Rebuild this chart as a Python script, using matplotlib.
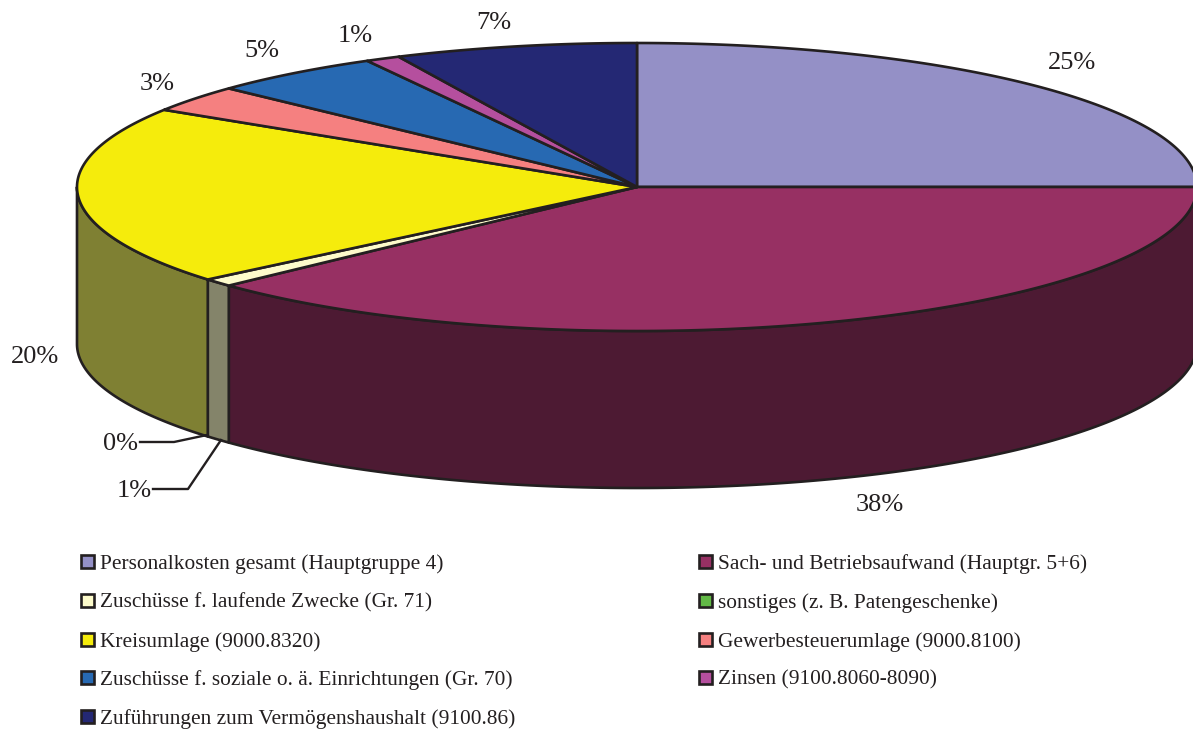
import numpy as np
import matplotlib
matplotlib.use('Agg')
import matplotlib.pyplot as plt

plt.rcParams['font.family'] = ['Liberation Serif', 'DejaVu Serif']

categories = ['Personalkosten gesamt (Hauptgruppe 4)', 'Sach- und Betriebsaufwand (Hauptgr. 5+6)',
              'Zuschüsse f. laufende Zwecke (Gr. 71)', 'sonstiges (z. B. Patengeschenke)',
              'Kreisumlage (9000.8320)', 'Gewerbesteuerumlage (9000.8100)',
              'Zuschüsse f. soziale o. ä. Einrichtungen (Gr. 70)', 'Zinsen (9100.8060-8090)',
              'Zuführungen zum Vermögenshaushalt (9100.86)']
values = [25, 38, 0.9, 0, 20.1, 3, 5, 1, 7]
colors = ['#9490C6', '#973063', '#FDFBCB', '#62B946', '#F5EC0C', '#F58080', '#2769B2', '#B54F9E', '#242874']
side_colors = ['#4A4863', '#4D1A33', '#84846A', '#315C23', '#7F8033', '#7A4040', '#143559', '#5A284F', '#12143A']

edge = '#231F20'
cx, cy = 637, 187
rx, ry = 560, 144
depth = 157

fig = plt.figure(figsize=(11.93, 7.31), dpi=100)
ax = fig.add_axes([0, 0, 1, 1])
ax.set_xlim(0, 1193)
ax.set_ylim(731, 0)
ax.axis('off')


def rim(a):
    # a = degrees clockwise from 12 o'clock
    r = np.radians(a)
    return cx + rx * np.sin(r), cy - ry * np.cos(r)


shares = np.array(values) / sum(values) * 360
ends = np.cumsum(shares)
starts = ends - shares

# side wall, only the front half of the ellipse shows
for s, e, c in zip(starts, ends, side_colors):
    a0, a1 = max(s, 90), min(e, 270)
    if a1 <= a0:
        continue
    t = np.linspace(a0, a1, 200)
    x, y = rim(t)
    xs = np.r_[x, x[::-1]]
    ys = np.r_[y, (y + depth)[::-1]]
    ax.fill(xs, ys, facecolor=c, edgecolor=edge, lw=1.9, joinstyle='round', zorder=2)

# top face
for s, e, c in zip(starts, ends, colors):
    if e - s <= 0:
        continue
    t = np.linspace(s, e, 200)
    x, y = rim(t)
    ax.fill(np.r_[cx, x], np.r_[cy, y], facecolor=c, edgecolor=edge, lw=1.9, joinstyle='round', zorder=3)

# percent labels
labels = ['25%', '38%', '1%', '0%', '20%', '3%', '5%', '1%', '7%']
label_x = [1072, 880, 134, 120, 35, 157, 262, 355, 494]
label_y = [63, 505, 491, 444, 357, 84, 51, 36, 23]
for t, x, y in zip(labels, label_x, label_y):
    ax.text(x, y, t, fontsize=19, color=edge, ha='center', va='center', zorder=5)

# leader lines for the two small slices
ax.plot([140, 174, 207], [442, 442, 435], color=edge, lw=1.7, zorder=4)
ax.plot([153, 188, 221], [489, 489, 440], color=edge, lw=1.7, zorder=4)

# legend
rows_y = [561, 600, 639, 677, 716]
for i, (name, c) in enumerate(zip(categories, colors)):
    col = i % 2
    y = rows_y[i // 2]
    bx = 81 if col == 0 else 699
    tx = 100 if col == 0 else 718
    ax.add_patch(plt.Rectangle((bx, y - 6.5), 13, 13, facecolor=c, edgecolor=edge, lw=1.9, zorder=3))
    ax.text(tx, y + 3, name, fontsize=15.4, color=edge, ha='left', va='center', zorder=5)

fig.savefig('out.png', dpi=100)
